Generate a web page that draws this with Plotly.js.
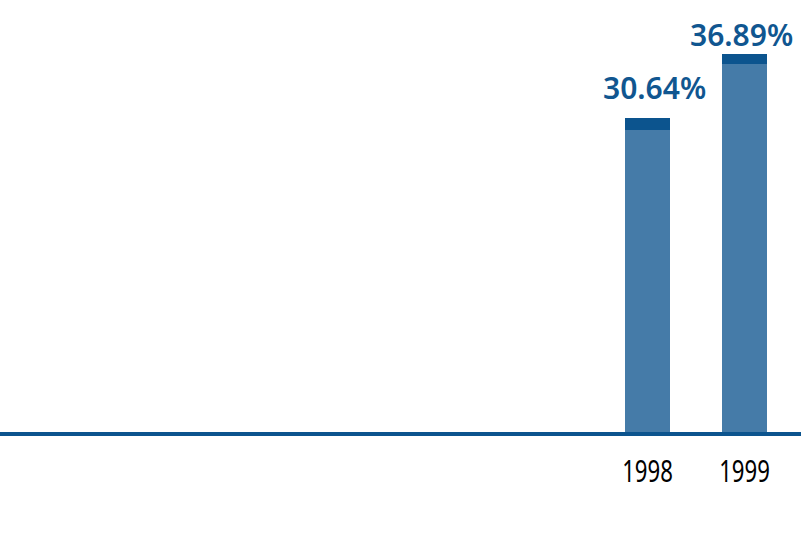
<!DOCTYPE html>
<html>
<head>
<meta charset="utf-8">
<script src="https://cdn.plot.ly/plotly-3.0.1.min.js"></script>
<style>
html,body{margin:0;padding:0;background:#fff;}
#chart{width:801px;height:551px;}
</style>
</head>
<body>
<div id="chart"></div>
<script>
const years = [1998, 1999];
const totals = [30.64, 36.89];
const baseValues = [29.49, 35.97];
const capValues = [1.15, 0.92];
const labels = ["30.64%", "36.89%"];

const mainColor = "rgb(69,123,168)";
const darkColor = "rgb(12,84,142)";

const traces = [
  {type: "bar", x: years, y: baseValues, marker: {color: mainColor}, width: 0.464, hoverinfo: "skip"},
  {type: "bar", x: years, y: capValues, marker: {color: darkColor}, width: 0.464, hoverinfo: "skip"}
];

const annotations = years.map((yr, i) => ({
  x: yr, y: totals[i], text: labels[i], showarrow: false,
  yanchor: "bottom", xanchor: "center", xshift: i === 0 ? 7 : -3, yshift: i === 0 ? 8 : -3,
  font: {family: "Noto Sans", size: 30, weight: 600, color: "rgb(16,86,144)"}
}));

const layout = {
  width: 801, height: 551,
  margin: {l: 0, r: 0, t: 0, b: 119},
  paper_bgcolor: "#fff", plot_bgcolor: "#fff",
  barmode: "stack",
  showlegend: false,
  xaxis: {
    range: [1991.325, 1999.582],
    tickmode: "array", tickvals: years, ticktext: years.map(String),
    showgrid: false, zeroline: false,
    showline: true, linecolor: darkColor, linewidth: 4,
    ticks: "", ticklabelstandoff: 10,
    tickfont: {family: "Noto Sans", size: 30, color: "#000"}
  },
  yaxis: {range: [0, 42.19], visible: false, showgrid: false, zeroline: false},
  annotations: annotations
};

Plotly.newPlot("chart", traces, layout, {displayModeBar: false, staticPlot: true}).then(function (gd) {
  // condense the year labels horizontally to match the narrow typeface
  gd.querySelectorAll(".xtick text").forEach(function (t) {
    const tr = t.getAttribute("transform") || "";
    const x = parseFloat(t.getAttribute("x")) || 0;
    t.setAttribute("transform", tr + " translate(" + x + ",0) scale(0.74,1) translate(" + (-x) + ",0)");
  });
});
</script>
</body>
</html>
